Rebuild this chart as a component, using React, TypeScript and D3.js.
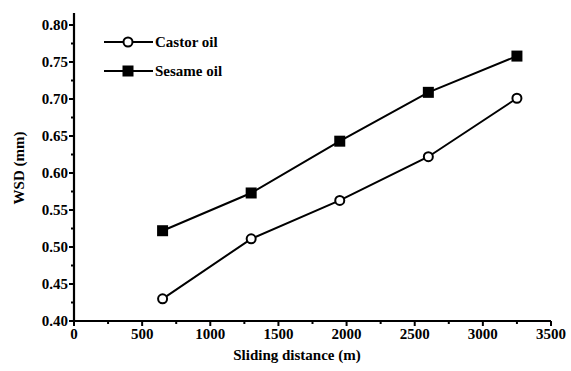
import React from "react";
import * as d3 from "d3";

const distances = [650, 1300, 1950, 2600, 3250];
const castorOil = [0.43, 0.511, 0.563, 0.622, 0.701];
const sesameOil = [0.522, 0.573, 0.643, 0.709, 0.758];
const xTicks = [0, 500, 1000, 1500, 2000, 2500, 3000, 3500];
const yTicks = [0.4, 0.45, 0.5, 0.55, 0.6, 0.65, 0.7, 0.75, 0.8];
const seriesNames = ["Castor oil", "Sesame oil"];

const W = 571;
const H = 371;
const FAMILY = "Liberation Serif";

export default function App() {
  const x = d3.scaleLinear().domain([0, 3500]).range([74, 551]);
  const y = d3.scaleLinear().domain([0.4, 0.8]).range([321, 25]);
  const x0 = x(0);
  const y0 = y(0.4);

  const line = d3
    .line<number>()
    .x((_, i) => x(distances[i]))
    .y((d) => y(d));

  const xMinor = d3.range(250, 3500, 500);
  const yMinor = d3.range(0.425, 0.8, 0.05);

  const T = (props: any) => (
    <text fontFamily={FAMILY} fontWeight="bold" fontSize={15} {...props} />
  );

  return (
    <svg
      width={W}
      height={H}
      style={{ position: "absolute", left: 0, top: 0, background: "#fff" }}
    >
      {/* axes */}
      <line x1={x0} x2={x0} y1={y0 + 1} y2={y(0.8) - 12} stroke="#000" strokeWidth={2.2} />
      <line x1={x0 - 1} x2={x(3500)} y1={y0} y2={y0} stroke="#000" strokeWidth={2.2} />
      {yTicks.map((t) => (
        <g key={"y" + t}>
          <line x1={x0 - 5} x2={x0} y1={y(t)} y2={y(t)} stroke="#000" strokeWidth={2} />
          <T x={x0 - 6} y={y(t)} textAnchor="end" dominantBaseline="central">
            {t.toFixed(2)}
          </T>
        </g>
      ))}
      {yMinor.map((t) => (
        <line key={"ym" + t} x1={x0 - 3} x2={x0} y1={y(t)} y2={y(t)} stroke="#000" strokeWidth={2} />
      ))}
      {xTicks.map((t) => (
        <g key={"x" + t}>
          <line x1={x(t)} x2={x(t)} y1={y0} y2={y0 + 5} stroke="#000" strokeWidth={2} />
          <T x={x(t)} y={y0 + 18} textAnchor="middle">
            {t}
          </T>
        </g>
      ))}
      {xMinor.map((t) => (
        <line key={"xm" + t} x1={x(t)} x2={x(t)} y1={y0} y2={y0 + 3} stroke="#000" strokeWidth={2} />
      ))}
      <T x={297} y={y0 + 39} textAnchor="middle">
        Sliding distance (m)
      </T>
      <T transform={`translate(24, ${(y0 + y(0.8)) / 2 - 5}) rotate(-90)`} textAnchor="middle">
        WSD (mm)
      </T>

      {/* series */}
      <path d={line(castorOil) || ""} fill="none" stroke="#000" strokeWidth={2} />
      <path d={line(sesameOil) || ""} fill="none" stroke="#000" strokeWidth={2} />
      {castorOil.map((v, i) => (
        <circle key={"c" + i} cx={x(distances[i])} cy={y(v)} r={4.5} fill="#fff" stroke="#000" strokeWidth={2} />
      ))}
      {sesameOil.map((v, i) => (
        <rect key={"s" + i} x={x(distances[i]) - 5.5} y={y(v) - 5.5} width={11} height={11} fill="#000" />
      ))}

      {/* legend */}
      <g>
        <line x1={104} x2={153} y1={42} y2={42} stroke="#000" strokeWidth={2} />
        <circle cx={128} cy={42} r={4.5} fill="#fff" stroke="#000" strokeWidth={2} />
        <T x={155} y={42} dominantBaseline="central">
          {seriesNames[0]}
        </T>
        <line x1={104} x2={153} y1={71} y2={71} stroke="#000" strokeWidth={2} />
        <rect x={122.5} y={65.5} width={11} height={11} fill="#000" />
        <T x={155} y={71} dominantBaseline="central">
          {seriesNames[1]}
        </T>
      </g>
    </svg>
  );
}
